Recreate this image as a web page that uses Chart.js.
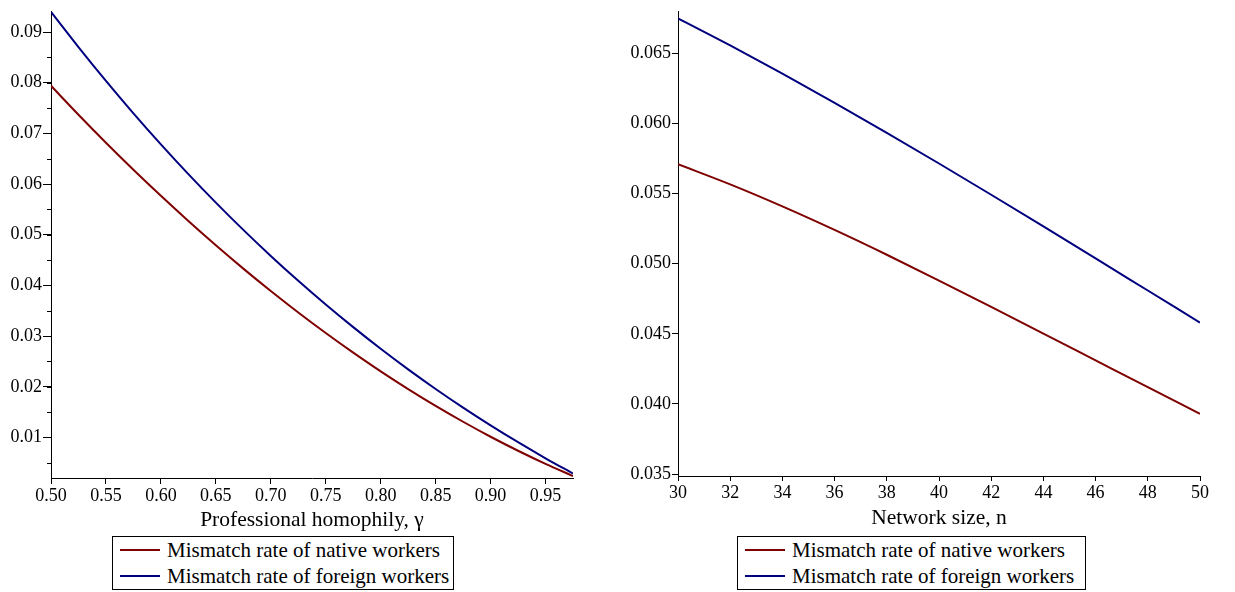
<!DOCTYPE html>
<html><head><meta charset="utf-8">
<script src="https://cdn.jsdelivr.net/npm/chart.js@4/dist/chart.umd.min.js"></script>
<style>
html,body{margin:0;padding:0;background:#fff;width:1235px;height:592px;overflow:hidden;position:relative;font-family:"Liberation Serif","Times New Roman",serif;}
.wrap{position:absolute;top:0;height:540px;}
.legend{position:absolute;border:1px solid #000;box-sizing:border-box;font-size:21px;color:#000;background:#fff;}
.legend .row{height:26px;line-height:26px;white-space:nowrap;display:flex;align-items:center;}
.legend .sw{display:inline-block;width:40px;height:2px;margin:0 7px 0 7px;}
</style></head><body>
<div class="wrap" style="left:0;width:600px;"><canvas id="c1"></canvas></div>
<div class="wrap" style="left:600px;width:635px;"><canvas id="c2"></canvas></div>
<div id="lg1" class="legend" style="left:112px;top:536px;width:342px;height:54px"></div>
<div id="lg2" class="legend" style="left:737px;top:536px;width:349px;height:54px"></div>
<script>
// ---- data ----
const gamma = [0.500,0.525,0.550,0.575,0.600,0.625,0.650,0.675,0.700,0.725,0.750,0.775,0.800,0.825,0.850,0.875,0.900,0.925,0.950,0.975];
const nativeByGamma = [0.07940,0.07369,0.06817,0.06283,0.05768,0.05271,0.04792,0.04332,0.03890,0.03466,0.03061,0.02674,0.02305,0.01955,0.01623,0.01310,0.01014,0.00738,0.00479,0.00239];
const foreignByGamma = [0.09400,0.08705,0.08037,0.07397,0.06784,0.06197,0.05635,0.05097,0.04583,0.04092,0.03624,0.03177,0.02750,0.02344,0.01957,0.01589,0.01239,0.00906,0.00589,0.00288];
const networkSize = [30,32,34,36,38,40,42,44,46,48,50];
const nativeByN = [0.05710,0.05566,0.05409,0.05241,0.05064,0.04880,0.04692,0.04502,0.04311,0.04120,0.03930];
const foreignByN = [0.06750,0.06557,0.06356,0.06148,0.05934,0.05715,0.05492,0.05266,0.05038,0.04809,0.04580];
const seriesLabels = ['Mismatch rate of native workers','Mismatch rate of foreign workers'];
const leftXTitle = 'Professional homophily, γ';
const rightXTitle = 'Network size, n';

const FAMILY = '"Liberation Serif","Times New Roman",serif';
const RED = '#7f0000', BLUE = '#00007f';

const minorTicks = {
  id: 'minorTicks',
  afterDraw(chart, args, opts) {
    if (!opts || !opts.step) return;
    const s = chart.scales.y, ctx = chart.ctx;
    ctx.save(); ctx.strokeStyle = '#000'; ctx.lineWidth = 1;
    const i0 = Math.ceil(s.min / opts.step - 1e-9), i1 = Math.floor(s.max / opts.step + 1e-9);
    for (let i = i0; i <= i1; i++) {
      const y = Math.round(s.getPixelForValue(i * opts.step)) + 0.5;
      ctx.beginPath(); ctx.moveTo(s.right - opts.len, y); ctx.lineTo(s.right, y); ctx.stroke();
    }
    ctx.restore();
  }
};

function pts(xs, ys) { return xs.map((x, i) => ({x: x, y: ys[i]})); }

function makeChart(id, xs, a, b, cfg) {
  return new Chart(document.getElementById(id), {
    type: 'line',
    data: { datasets: [
      { label: seriesLabels[0], data: pts(xs, a), borderColor: RED, backgroundColor: RED, borderWidth: 2, pointRadius: 0, cubicInterpolationMode: 'monotone', fill: false },
      { label: seriesLabels[1], data: pts(xs, b), borderColor: BLUE, backgroundColor: BLUE, borderWidth: 2, pointRadius: 0, cubicInterpolationMode: 'monotone', fill: false }
    ]},
    options: {
      responsive: true, maintainAspectRatio: false, animation: false,
      layout: { padding: cfg.padding },
      plugins: { legend: { display: false }, tooltip: { enabled: false }, minorTicks: cfg.minor },
      scales: {
        x: {
          type: 'linear', min: cfg.xmin, max: cfg.xmax,
          border: { display: true, color: '#000', width: 1 },
          grid: { display: true, drawOnChartArea: false, drawTicks: true, tickLength: cfg.xTick, color: '#000' },
          ticks: { stepSize: cfg.xstep, includeBounds: false, autoSkip: false, maxRotation: 0, padding: 1, color: '#000', font: { family: FAMILY, size: 18 }, callback: cfg.xfmt },
          title: { display: true, text: cfg.xtitle, color: '#000', font: { family: FAMILY, size: 21.5 }, padding: { top: 0, bottom: cfg.titlePad } },
          afterFit(s) { s.height = cfg.xh; }
        },
        y: {
          type: 'linear', min: cfg.ymin, max: cfg.ymax,
          border: { display: true, color: '#000', width: 1 },
          grid: { display: true, drawOnChartArea: false, drawTicks: true, tickLength: cfg.yTick, color: '#000' },
          ticks: { stepSize: cfg.ystep, includeBounds: false, autoSkip: false, padding: 1, color: '#000', font: { family: FAMILY, size: 18 }, callback: cfg.yfmt },
          afterFit(s) { s.width = cfg.yw; }
        }
      }
    },
    plugins: [minorTicks]
  });
}

const c1 = makeChart('c1', gamma, nativeByGamma, foreignByGamma, {
  padding: { top: 2, right: 27, left: 0, bottom: 0 },
  xmin: 0.5, xmax: 0.975, xstep: 0.05, xfmt: v => Number(v).toFixed(2), xTick: 6, xh: 62, titlePad: 7, xtitle: leftXTitle,
  ymin: 0.002, ymax: 0.094, ystep: 0.01, yfmt: v => Number(v).toFixed(2), yTick: 8, yw: 51,
  minor: { step: 0.005, len: 4 }
});
const c2 = makeChart('c2', networkSize, nativeByN, foreignByN, {
  padding: { top: 7, right: 35, left: 0, bottom: 0 },
  xmin: 30, xmax: 50, xstep: 2, xfmt: v => String(Math.round(v)), xTick: 5, xh: 64, titlePad: 9, xtitle: rightXTitle,
  ymin: 0.03486, ymax: 0.06797, ystep: 0.005, yfmt: v => Number(v).toFixed(3), yTick: 6, yw: 78,
  minor: false
});

function buildLegend(el, chart) {
  chart.data.datasets.forEach(ds => {
    const row = document.createElement('div'); row.className = 'row';
    const sw = document.createElement('span'); sw.className = 'sw'; sw.style.background = ds.borderColor;
    row.appendChild(sw); row.appendChild(document.createTextNode(ds.label));
    el.appendChild(row);
  });
}
buildLegend(document.getElementById('lg1'), c1);
buildLegend(document.getElementById('lg2'), c2);
</script>
</body></html>
